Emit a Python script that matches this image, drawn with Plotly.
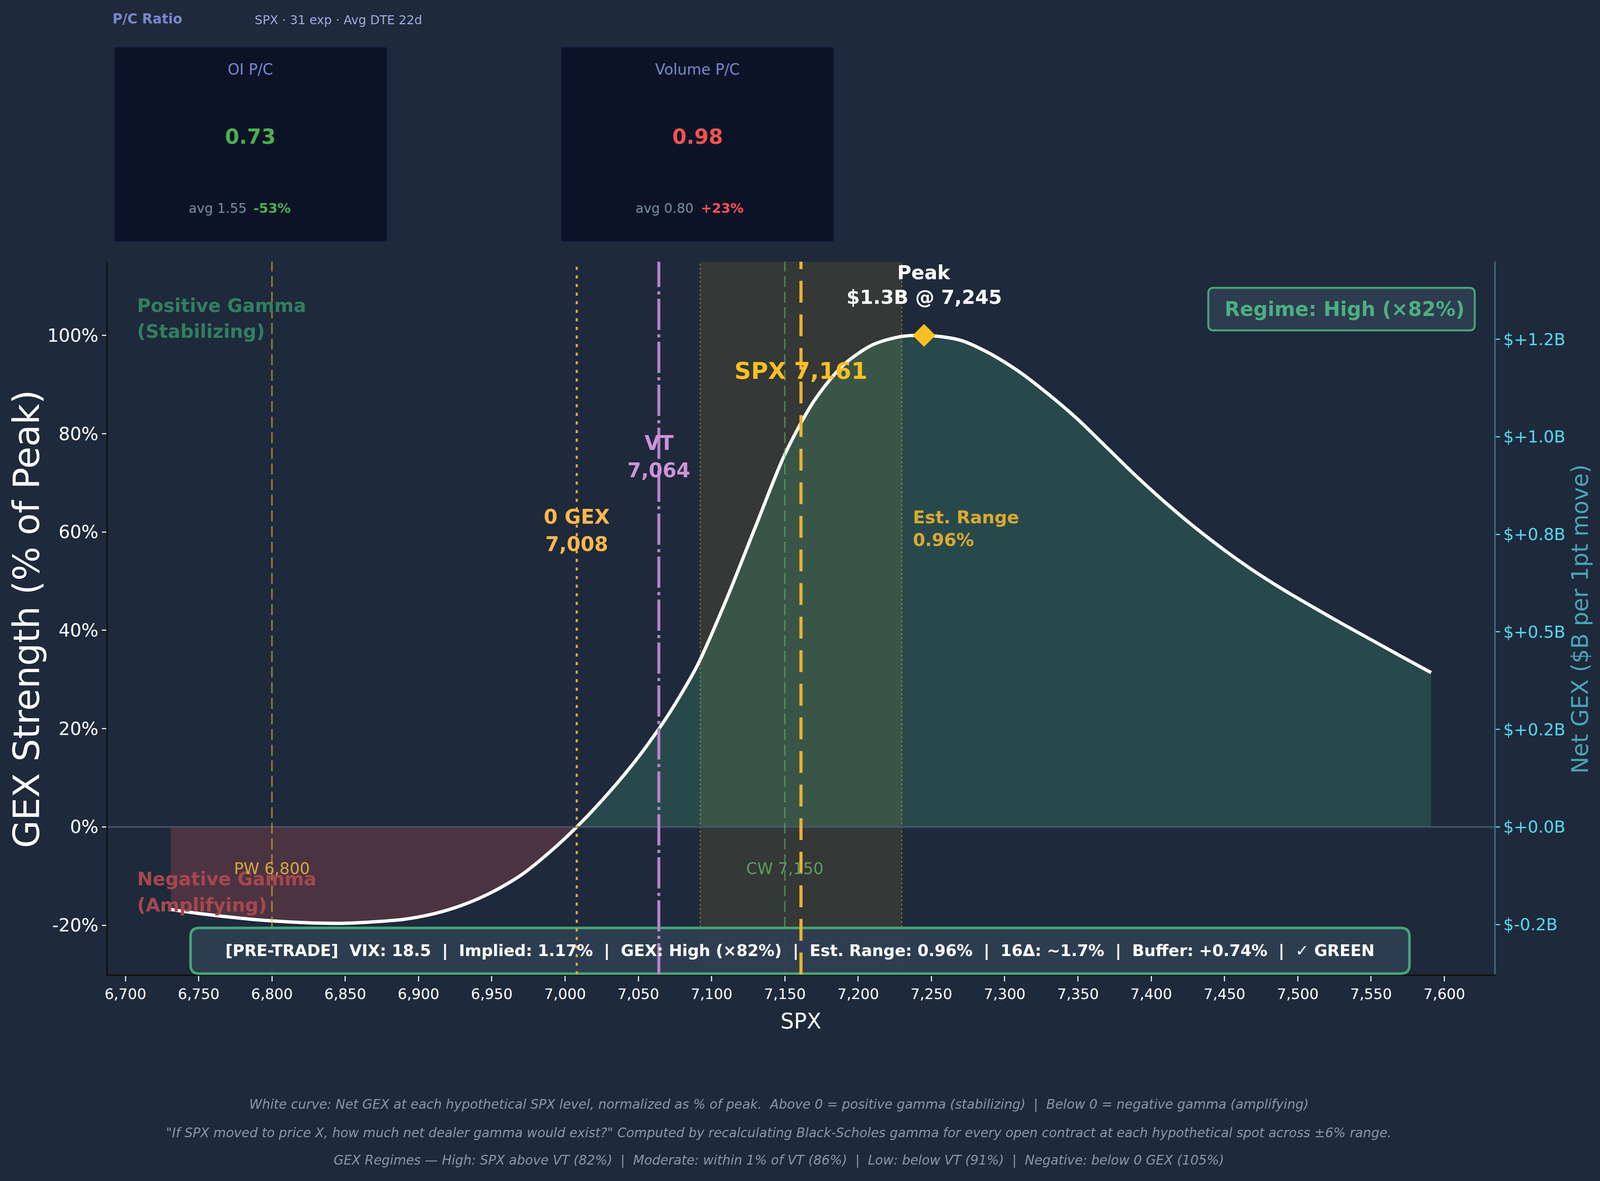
import plotly.graph_objects as go

# layout is measured on the 4828x3024 reference; the browser window that opens
# the page is only 4096 px wide, so horizontal sizes are squeezed to fit it
REF_W, REF_H = 4828, 3024
FW, FH = 4096, 3024
SX = FW / REF_W

ML, MR, MT, MB = round(325 * SX), round(320 * SX), 670, 529
PLOT_W, PLOT_H = FW - ML - MR, FH - MT - MB


def px(x):
    # reference pixel (from left) -> paper x
    return (x * SX - ML) / PLOT_W


def py(y):
    # reference pixel (from top) -> paper y
    return (FH - MB - y) / PLOT_H


def fs(size):
    return round(size * SX, 1)


BG = "#1e293b"
FONT = "DejaVu Sans"

# net GEX at each hypothetical SPX level, % of peak
spx_levels = [6731, 6750, 6770, 6790, 6810, 6830, 6850, 6870, 6890, 6910,
              6930, 6950, 6970, 6990, 7008, 7030, 7050, 7070, 7090, 7110,
              7130, 7150, 7170, 7190, 7210, 7230, 7250, 7270, 7290, 7310,
              7330, 7350, 7370, 7390, 7410, 7430, 7450, 7470, 7490, 7510,
              7530, 7550, 7570, 7591]
gex_pct = [-16.8, -17.6, -18.3, -18.9, -19.3, -19.55, -19.6, -19.3, -18.8, -17.7,
           -15.9, -13.3, -9.8, -5.0, 0.0, 7.0, 14.2, 22.6, 32.7, 46.2,
           61.1, 75.8, 86.7, 94.0, 98.1, 99.8, 99.95, 99.0, 96.3, 92.6,
           88.0, 82.9, 77.1, 71.3, 65.9, 60.9, 56.3, 52.1, 48.3, 44.8,
           41.4, 38.1, 34.8, 31.4]

SPOT = 7161
ZERO_GEX = 7008
VOL_TRIGGER = 7064
PUT_WALL = 6800
CALL_WALL = 7150
PEAK_STRIKE = 7245
PEAK_GEX_B = 1.26
EST_RANGE_PCT = 0.96
REGIME = "High (×82%)"

# put/call cards
pc_titles = ["OI P/C", "Volume P/C"]
pc_values = [0.73, 0.98]
pc_avgs = [1.55, 0.80]
pc_changes = [-53, 23]
pc_colors = ["#4caf50", "#ef5350"]
pc_centers = [756, 2105]

banner_items = ["[PRE-TRADE]\u00a0 VIX: 18.5", "Implied: 1.17%", "GEX: High (×82%)",
                "Est. Range: 0.96%", "16Δ: ~1.7%", "Buffer: +0.74%", "✓ GREEN"]

footer_lines = [
    "White curve: Net GEX at each hypothetical SPX level, normalized as % of peak.\u00a0 Above 0 = positive gamma (stabilizing)\u00a0 |\u00a0 Below 0 = negative gamma (amplifying)",
    "\"If SPX moved to price X, how much net dealer gamma would exist?\" Computed by recalculating Black-Scholes gamma for every open contract at each hypothetical spot across ±6% range.",
    "GEX Regimes — High: SPX above VT (82%)\u00a0 |\u00a0 Moderate: within 1% of VT (86%)\u00a0 |\u00a0 Low: below VT (91%)\u00a0 |\u00a0 Negative: below 0 GEX (105%)",
]

y_ticks = [-20, 0, 20, 40, 60, 80, 100]
y2_ticks = [-0.25, 0.0, 0.25, 0.5, 0.75, 1.0, 1.25]

lo, hi = min(spx_levels), max(spx_levels)
pad = 0.05 * (hi - lo)
x_range = [lo - pad, hi + pad]
y_range = [-30, 115]
y2_range = [v * PEAK_GEX_B / 100 for v in y_range]
band_lo = SPOT * (1 - EST_RANGE_PCT / 100)
band_hi = SPOT * (1 + EST_RANGE_PCT / 100)

neg_x = [x for x in spx_levels if x <= ZERO_GEX]
neg_y = gex_pct[:len(neg_x)]
pos_x = [x for x in spx_levels if x >= ZERO_GEX]
pos_y = gex_pct[len(spx_levels) - len(pos_x):]

curve = dict(shape="spline", smoothing=0.8)
fig = go.Figure()
fig.add_trace(go.Scatter(x=neg_x, y=neg_y, mode="lines", fill="tozeroy",
                         fillcolor="rgba(214,85,83,0.25)", line=dict(width=0, **curve),
                         hoverinfo="skip", showlegend=False))
fig.add_trace(go.Scatter(x=pos_x, y=pos_y, mode="lines", fill="tozeroy",
                         fillcolor="rgba(70,173,127,0.25)", line=dict(width=0, **curve),
                         hoverinfo="skip", showlegend=False))
fig.add_trace(go.Scatter(x=spx_levels, y=gex_pct, mode="lines",
                         line=dict(color="#ffffff", width=8.5, **curve),
                         showlegend=False))
fig.add_trace(go.Scatter(x=[PEAK_STRIKE], y=[100], mode="markers",
                         marker=dict(symbol="diamond", size=45, color="#fbbf24"),
                         showlegend=False))
# carries the $B axis
fig.add_trace(go.Scatter(x=spx_levels, y=[v * PEAK_GEX_B / 100 for v in gex_pct],
                         yaxis="y2", mode="lines", line=dict(width=0),
                         opacity=0, hoverinfo="skip", showlegend=False))


def rounded_box(x0, y0, x1, y1, r):
    rx = r / SX  # keep corners round after the horizontal squeeze
    return (f"M {px(x0 + rx)},{py(y0)} L {px(x1 - rx)},{py(y0)} Q {px(x1)},{py(y0)} {px(x1)},{py(y0 + r)} "
            f"L {px(x1)},{py(y1 - r)} Q {px(x1)},{py(y1)} {px(x1 - rx)},{py(y1)} "
            f"L {px(x0 + rx)},{py(y1)} Q {px(x0)},{py(y1)} {px(x0)},{py(y1 - r)} "
            f"L {px(x0)},{py(y0 + r)} Q {px(x0)},{py(y0)} {px(x0 + rx)},{py(y0)} Z")


def vline(x, color, width, dash):
    return dict(type="line", xref="x", yref="paper", x0=x, x1=x, y0=0, y1=1,
                layer="above", line=dict(color=color, width=width * SX, dash=dash))


shapes = [
    # est. range band sits under the curve and its fills
    dict(type="rect", xref="x", yref="paper", x0=band_lo, x1=band_hi, y0=0, y1=1,
         layer="below", fillcolor="rgba(255,193,7,0.1)", line=dict(width=0)),
    vline(band_lo, "rgba(218,165,32,0.6)", 3, "5px,6px"),
    vline(band_hi, "rgba(218,165,32,0.6)", 3, "5px,6px"),
    dict(type="line", xref="paper", yref="y", x0=0, x1=1, y0=0, y1=0, layer="above",
         line=dict(color="#475569", width=4)),
    vline(PUT_WALL, "rgba(212,175,55,0.65)", 4.5, "28px,12px"),
    vline(CALL_WALL, "rgba(102,187,106,0.55)", 4.5, "28px,12px"),
    dict(type="path", xref="paper", yref="paper", layer="above",
         path=rounded_box(3646, 737, 4450, 846, 14),
         fillcolor="#2d3c50", line=dict(color="#46a578", width=5)),
    dict(type="path", xref="paper", yref="paper", layer="above",
         path=rounded_box(575, 2376, 4253, 2493, 22),
         fillcolor="rgba(46,62,82,0.93)", line=dict(color="#46a578", width=6.5)),
    vline(ZERO_GEX, "#e9a43e", 6.5, "8px,14px"),
    vline(VOL_TRIGGER, "#ba80cc", 9, "80px,11px,8px,11px"),
    vline(SPOT, "#ecb22e", 9.5, "56px,30px"),
]

# P/C cards
for cx in pc_centers:
    shapes.append(dict(type="path", xref="paper", yref="paper", layer="above",
                       path=rounded_box(cx - 412, 120, cx + 412, 619, 6),
                       fillcolor="#0d1326", line=dict(color="#1b2344", width=3)))

annotations = []


def note(text, x, y, size, color, xref="paper", yref="paper", xanchor="center",
         yanchor="middle", bold=False, italic=False, angle=0):
    if bold:
        text = f"<b>{text}</b>"
    if italic:
        text = f"<i>{text}</i>"
    annotations.append(dict(text=text, x=x, y=y, xref=xref, yref=yref,
                            xanchor=xanchor, yanchor=yanchor, showarrow=False,
                            textangle=angle,
                            font=dict(family=FONT, size=size, color=color)))


# header
note("P/C Ratio", px(337), py(48), fs(41), "#7986cb", xanchor="left", bold=True)
note("SPX · 31 exp · Avg DTE 22d", px(766), py(51), fs(37), "#9fa8da", xanchor="left")
for title, val, avg, chg, col, cx in zip(pc_titles, pc_values, pc_avgs, pc_changes,
                                         pc_colors, pc_centers):
    note(title, px(cx), py(178), fs(45), "#7986cb")
    note(f"{val:.2f}", px(cx), py(349), fs(62), col, bold=True)
    note(f"avg {avg:.2f}", px(cx - 9), py(534), fs(40), "#78909c", xanchor="right")
    note(f"{chg:+d}%", px(cx + 7), py(534), fs(40), col, xanchor="left", bold=True)

# axis titles (rotated ones run vertically, so they keep their height)
note("GEX Strength (% of Peak)", px(80), py(1585), 92, "#ffffff", angle=-90)
note("Net GEX ($B per 1pt move)", px(4768), py(1585), 58, "#4aa3b5", angle=-90)
note("SPX", px(2416), py(2614), fs(64), "#ffffff")

# in-plot labels (two-line labels placed line by line)
note("Positive Gamma", px(411), 106.1, fs(56), "#327e60", yref="y", xanchor="left", bold=True)
note("(Stabilizing)", px(411), 100.8, fs(56), "#327e60", yref="y", xanchor="left", bold=True)
note("Negative Gamma", px(411), -10.6, fs(56), "#a5474e", yref="y", xanchor="left", bold=True)
note("(Amplifying)", px(411), -15.9, fs(56), "#a5474e", yref="y", xanchor="left", bold=True)
note(f"PW {PUT_WALL:,}", PUT_WALL, -8.5, fs(48), "#cfa944", xref="x", yref="y")
note(f"CW {CALL_WALL:,}", CALL_WALL, -8.5, fs(48), "#5f9a62", xref="x", yref="y")
note("0 GEX", ZERO_GEX, 63.1, fs(60), "#ffb74d", xref="x", yref="y", bold=True)
note(f"{ZERO_GEX:,}", ZERO_GEX, 57.5, fs(60), "#ffb74d", xref="x", yref="y", bold=True)
note("VT", VOL_TRIGGER, 78.1, fs(60), "#ce93d8", xref="x", yref="y", bold=True)
note(f"{VOL_TRIGGER:,}", VOL_TRIGGER, 72.5, fs(60), "#ce93d8", xref="x", yref="y", bold=True)
note(f"SPX {SPOT:,}", SPOT, 92.8, fs(70), "#fbbf24", xref="x", yref="y", bold=True)
note("Peak", PEAK_STRIKE, 112.8, fs(58), "#ffffff", xref="x", yref="y", bold=True)
note(f"${PEAK_GEX_B:.1f}B @ {PEAK_STRIKE:,}", PEAK_STRIKE, 107.8, fs(58), "#ffffff",
     xref="x", yref="y", bold=True)
note("Est. Range", band_hi + 7, 63.0, fs(53), "#d9a930", xref="x", yref="y",
     xanchor="left", bold=True)
note(f"{EST_RANGE_PCT:.2f}%", band_hi + 7, 58.4, fs(53), "#d9a930", xref="x", yref="y",
     xanchor="left", bold=True)
note(f"Regime: {REGIME}", px(4423), py(791), fs(60), "#4caf80", xanchor="right", bold=True)
note("\u00a0 |\u00a0 ".join(banner_items), px(2414), py(2434), fs(48), "#ffffff", bold=True)

for line, yc in zip(footer_lines, [2827, 2900, 2970]):
    note(line, px(2350), py(yc), fs(39), "#8a94a8", italic=True)

axis_font = dict(family=FONT, color="#ffffff")
fig.update_layout(
    width=FW, height=FH, autosize=False,
    margin=dict(l=ML, r=MR, t=MT, b=MB, pad=0),
    paper_bgcolor=BG, plot_bgcolor=BG,
    font=dict(family=FONT, color="#ffffff"),
    showlegend=False,
    xaxis=dict(range=x_range, tick0=6700, dtick=50, tickformat=",d",
               showgrid=False, zeroline=False, showline=True, linecolor="#111111",
               linewidth=4, ticks="outside", ticklen=14, tickwidth=3,
               tickcolor="#e8e8e8", tickfont=dict(size=fs(44), **axis_font)),
    yaxis=dict(range=y_range, tickvals=y_ticks, ticktext=[f"{v}%" for v in y_ticks],
               showgrid=False, zeroline=False, showline=True, linecolor="#111111",
               linewidth=4, ticks="outside", ticklen=11, tickwidth=3,
               tickcolor="#e8e8e8", tickfont=dict(size=fs(54), **axis_font)),
    yaxis2=dict(range=y2_range, overlaying="y", side="right", tickvals=y2_ticks,
                ticktext=[f"${v:+.1f}B" for v in y2_ticks],
                showgrid=False, zeroline=False, showline=True, linecolor="#336e7b",
                linewidth=4, ticks="outside", ticklen=11, tickwidth=3,
                tickcolor="#55d6e8",
                tickfont=dict(family=FONT, size=fs(50), color="#55d6e8")),
    shapes=shapes,
    annotations=annotations,
)

# never let the page overflow a smaller window
fit_js = (
    "document.documentElement.style.margin='0';"
    "document.body.style.margin='0';"
    f"document.body.style.background='{BG}';"
    "var gd=document.getElementById('{plot_id}');"
    f"var s=Math.min(window.innerWidth/{FW},window.innerHeight/{FH});"
    "if(s<1){gd.style.zoom=s;}"
)
fig.write_html("out.html", post_script=fit_js, config={"displayModeBar": False})
